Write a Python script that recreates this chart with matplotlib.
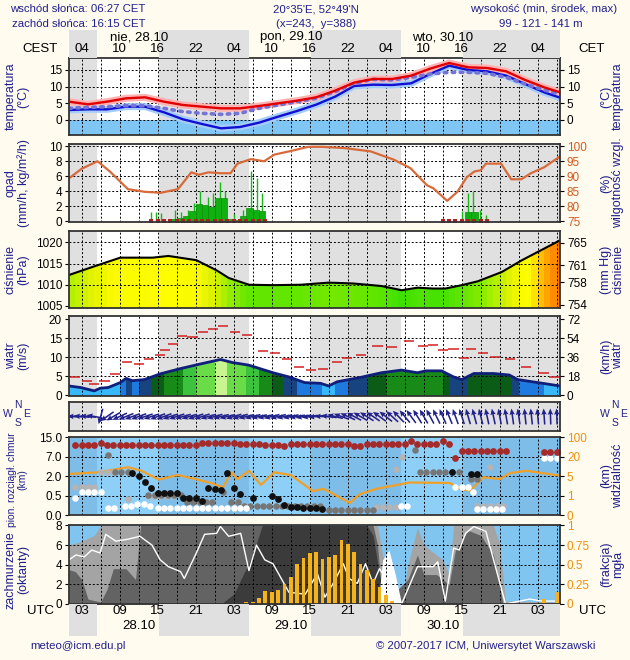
import numpy as np
import matplotlib
matplotlib.use("Agg")
import matplotlib.pyplot as plt
from matplotlib.colors import LinearSegmentedColormap, ListedColormap, BoundaryNorm, Normalize
from matplotlib.patches import Polygon
from matplotlib.transforms import blended_transform_factory

plt.rcParams['font.family'] = ['Liberation Sans', 'DejaVu Sans']

# ------------------------------------------------------------------ data
header_left = ["wschód słońca: 06:27 CET", "zachód słońca: 16:15 CET"]
header_mid = ["20°35'E, 52°49'N", "(x=243,  y=388)"]
header_right = ["wysokość (min, środek, max)", "99 - 121 - 141 m"]
day_top = ["nie, 28.10", "pon, 29.10", "wto, 30.10"]
day_bottom = ["28.10", "29.10", "30.10"]
day_t = [12, 36, 60]
hour_t = [3, 9, 15, 21, 27, 33, 39, 45, 51, 57, 63, 69, 75]
utc_labels = ["03", "09", "15", "21", "03", "09", "15", "21", "03", "09", "15", "21", "03"]
cet_labels = ["04", "10", "16", "22", "04", "10", "16", "22", "04", "10", "16", "22", "04"]
sunrise_utc = 5.45
sunset_utc = 15.25

# temperature (3-hourly, hours since 28.10 00 UTC)
temp_t = [1, 4, 7, 10, 13, 16, 19, 22, 25, 28, 31, 34, 37, 40, 43, 46, 49, 52, 55, 58, 61, 64, 67, 70, 73, 76, 78.5]
t_2m = [5.5, 4.7, 5.5, 6.5, 6.8, 5.5, 4.5, 4.0, 3.5, 3.5, 4.2, 5.0, 5.8, 6.8, 8.8, 11.2, 12.3, 12.3, 13.3, 15.4, 17.1, 15.8, 15.6, 14.6, 12.0, 9.8, 8.3]
t_ground = [3.0, 3.2, 3.2, 4.0, 4.0, 2.3, 0.2, -1.2, -2.5, -2.1, -0.8, 1.0, 2.7, 4.6, 7.0, 10.2, 10.6, 10.5, 11.0, 13.8, 16.3, 15.0, 14.6, 13.3, 10.8, 8.3, 6.7]
t_feel = [3.5, 3.8, 4.0, 4.3, 4.3, 3.5, 2.5, 2.0, 1.7, 2.0, 3.5, 4.5, 5.5, 6.5, 8.5, 11.0, 12.2, 12.0, 12.8, 13.8, 14.3, 14.3, 14.0, 12.8, 10.8, 9.0, 7.7]

# relative humidity
hum_t = [1, 3, 5.5, 7.5, 10.3, 13, 15.5, 18.2, 20.3, 21.5, 23, 25, 26.5, 27.6, 29.7, 31.8, 33.4, 36.6, 38.7, 41,
         44.4, 48.6, 52.3, 54.9, 57.5, 58.5, 60.7, 62.3, 63.8, 65, 66, 66.8, 69.2, 70.8, 72.4, 73.9, 76, 78.5]
hum = [89.3, 92.5, 95, 91.5, 85.7, 84.8, 84.5, 85.7, 91.3, 90.5, 91.3, 91, 91, 94.2, 95.7, 95, 97.2, 98.7, 99.8, 99.8,
       99.4, 98.3, 95.5, 92.7, 87, 86, 81.8, 84.8, 89.7, 91.6, 92, 94.2, 94.2, 89, 89, 91, 93, 96.6]

# precipitation (hourly bars), maxima (spikes), precipitation flags
prec_t = [17.5, 18.5, 19.5, 20.5, 21.5, 22.5, 23.5, 24.5, 25.5, 26.5, 27.5, 28.5, 29.5, 30.5, 31.5, 64.0, 65.0]
prec = [0.3, 0.5, 0.7, 1.4, 2.3, 2.2, 1.9, 3.1, 3.1, 0.3, 0.2, 0.7, 1.8, 1.5, 1.4, 1.3, 1.3]
spike_t = [14.0, 14.8, 15.6, 17.7, 18.7, 19.8, 20.8, 21.6, 22.9, 23.7, 24.8, 25.6, 27.1, 28.4, 29.8, 30.6, 31.4,
           63.0, 64.0, 64.8, 65.8, 66.8]
spike = [1.2, 1.3, 1.1, 1.5, 1.2, 1.5, 2.5, 4.0, 3.2, 3.8, 5.2, 4.0, 1.0, 1.5, 6.7, 5.8, 3.8,
         1.4, 3.8, 4.0, 1.5, 0.8]
flag_t = [14, 15, 16, 17, 18, 19, 20, 21, 22, 23, 24, 25, 26, 27, 28, 29, 30, 31, 32,
          60, 61, 62, 63, 64, 65, 66, 67]

# pressure (hPa)
pres_t = [1, 4.7, 9.1, 14.2, 16.7, 21.1, 24.3, 26.2, 29.4, 33.2, 37.6, 42, 45.8, 50.3, 53.5, 56, 58.5, 60.4, 63,
          65.5, 69.3, 72.5, 78.5]
pres = [1012.3, 1014.2, 1016.4, 1016.4, 1016.8, 1015.8, 1013.4, 1011.6, 1010.0, 1009.9, 1010.0, 1010.5, 1010.3,
        1009.7, 1008.7, 1009.3, 1009.1, 1009.1, 1009.9, 1010.8, 1013.0, 1015.8, 1020.5]

# wind speed (m/s) and gusts
wind_t = [1, 2.8, 5, 5.9, 7.2, 9.1, 10, 11, 12.9, 15.4, 18.6, 21.7, 24.9, 26.8, 29.4, 33.2, 35.7, 38.2, 40.7, 42,
          43.3, 47.1, 50.3, 53.5, 56, 57.3, 59.8, 61.7, 63, 64.9, 68, 70.5, 71.8, 75, 78.5]
wind = [2.4, 2.0, 1.1, 1.8, 2.0, 3.3, 4.4, 3.8, 4.1, 5.6, 7.0, 8.2, 9.4, 8.6, 7.9, 5.9, 4.8, 3.3, 3.1, 2.4,
        3.5, 4.7, 5.9, 6.6, 5.9, 6.4, 6.4, 4.8, 4.1, 5.7, 5.7, 5.3, 4.1, 3.3, 2.4]
gust_t = [1.9, 3.8, 5.0, 6.6, 8.3, 10.1, 12.0, 13.6, 15.3, 16.1, 17.4, 18.9, 20.5, 22.1, 23.7, 25.3, 27.2, 29.1,
          31.6, 33.5, 35.4, 37.3, 39.2, 41.1, 43.3, 44.9, 47.1, 49.7, 51.9, 54.7, 56.9, 58.5, 60.1, 61.7, 63.3,
          64.5, 66.4, 68.3, 70.6, 73.1, 75.9, 77.5]
gust = [4.8, 3.7, 3.0, 3.8, 5.5, 8.8, 8.2, 9.4, 10.6, 11.9, 13.4, 15.6, 15.4, 16.7, 17.4, 18.2, 16.7, 16.0,
        11.6, 11.2, 9.4, 7.5, 6.6, 7.0, 8.8, 9.7, 10.7, 13.0, 12.8, 14.4, 13.0, 13.2, 11.9, 12.1, 9.7,
        12.1, 11.2, 10.1, 9.4, 7.5, 5.9, 4.8]

# wind direction (deg, hourly t = 1..78)
wdir_t = list(range(1, 79))
wdir = [90, 92, 95, 95, 100, 15, 55, 60, 65, 68,
        70, 70, 72, 72, 70, 70, 72, 72, 74, 74, 72, 72, 74, 74, 76, 76, 74, 74, 76, 76,
        78, 78, 76, 76, 78, 78, 80, 80, 82, 84,
        92, 98, 104, 110, 114, 118, 120, 122, 124, 126,
        128, 132, 136, 140, 144, 148, 150, 152, 154, 156,
        158, 160, 162, 164, 165, 166, 168, 168, 170, 170,
        172, 172, 174, 174, 175, 176, 178, 178]

# cloud layers (km)
hc_t = list(range(2, 71)) + [76, 77, 78]
hc_h = [11.9, 11.9, 11.9, 11.9, 12.7,
        11.9, 11.9, 11.9, 11.9, 11.9, 11.8, 11.9, 11.9, 11.9, 11.9, 11.9, 12.0, 11.9, 11.9, 11.9,
        12.6, 12.6, 12.7, 12.6, 12.6, 12.6,
        12.3, 12.3, 12.3, 12.3,
        11.9, 11.9, 11.9,
        11.5,
        12.2, 12.2, 12.2, 12.2, 12.2, 12.2, 12.2, 12.2, 12.2, 12.2,
        11.6, 11.6,
        12.2, 12.2, 12.2, 12.3, 12.3, 12.2, 12.2,
        13.4,
        12.2, 12.2, 12.2, 12.2,
        13.6, 12.3, 6.6,
        9.5, 9.5, 9.5, 9.5, 9.5, 9.5, 9.5, 9.5,
        9.1, 9.1, 9.1]
black_t = [11, 12, 13, 14, 15, 16, 17, 18, 19, 20, 21, 22, 23, 24, 25, 26, 27, 28, 30, 33, 34, 35, 36, 37, 38,
           39, 40, 41, 61.4, 64.4, 65.4]
black_h = [2.75, 2.0, 1.55, 1.1, 0.7, 0.7, 0.7, 0.7, 0.43, 0.43, 0.43, 0.37, 1.1, 1.0, 0.95, 2.75, 1.1, 0.65,
           0.45, 0.48, 0.4, 0.25, 0.21, 0.21, 0.19, 0.19, 0.17, 0.15, 3.2, 2.55, 2.55]
gray_t = [7.1, 8.2, 9.2, 10.3, 13.4, 14.5, 15.5, 16.6, 17.6, 18.6, 19.6, 20.6, 21.6, 22.6, 23.6, 25.3, 26.6,
          27.6, 28.6, 29.6, 30.6, 31.6, 32.6, 33.6, 34.6, 35.6, 36.6, 37.6, 38.6, 39.6, 40.6, 42, 43, 44, 45,
          46, 47, 48, 49, 55.6, 56.4, 57.4, 58.4, 59.4, 60.4, 62.5, 64.4, 65.4]
gray_h = [7.8, 3.0, 3.0, 3.0, 0.56, 0.56, 0.56, 0.56, 0.56, 0.56, 0.33, 0.33, 0.33, 0.33, 0.33, 0.76, 0.33,
          0.33, 0.24, 0.24, 0.24, 0.24, 0.24, 0.24, 0.24, 0.24, 0.24, 0.24, 0.24, 0.24, 0.24, 0.13, 0.13, 0.13,
          0.13, 0.13, 0.13, 0.13, 0.13, 10.0, 3.2, 3.2, 3.2, 3.2, 3.2, 3.2, 1.8, 1.8]
lgray_t = [2, 3, 4, 5, 6, 7, 8, 10.3, 13.4, 14.4, 15.4, 16.4, 17.4, 49.5, 50.5, 51.5, 52.6, 52.6, 53.6, 67.4,
           65.4, 66.4, 67.5, 68.5, 69.5]
lgray_h = [1.2, 1.2, 1.2, 1.2, 3.2, 3.2, 3.2, 0.4, 0.5, 0.5, 0.5, 0.5, 0.5, 0.2, 0.2, 0.2, 0.2, 3.9, 7.0, 4.3,
           0.22, 0.22, 0.22, 0.22, 0.22]
white_t = [2, 3, 4, 5, 6, 7.1, 8.1, 9.8, 10.8, 11.8, 12.8, 13.8, 15, 16, 17, 18, 19, 20, 21, 22, 23, 24, 25,
           26, 27, 28, 29, 53.4, 54.4, 62, 63, 64, 64.7, 65.4, 66.4, 67.4, 68.4, 69.4, 76, 77, 78]
white_h = [0.45, 0.75, 0.75, 0.75, 0.75, 0.17, 0.17, 0.22, 0.22, 0.28, 0.28, 0.22, 0.19, 0.19, 0.19, 0.19,
           0.19, 0.19, 0.19, 0.19, 0.19, 0.19, 0.19, 0.19, 0.19, 0.19, 0.19, 0.24, 0.24, 1.15, 1.15, 1.15, 0.75,
           0.15, 0.15, 0.15, 0.15, 0.15, 6.6, 6.6, 6.6]
cb_ticks = [0.0, 0.5, 2.0, 7.0, 15.0]
cb_labels = ["0.0", "0.5", "2.0", "7.0", "15.0"]

# visibility (km)
vis_t = [1, 5.5, 10.3, 12.4, 15.2, 18.1, 21.3, 23.9, 25.3, 26.6, 27.6, 29.4, 31.3, 33.4, 36.0, 38.5, 39.5,
         41.1, 42.2, 45.3, 46.9, 49.5, 54.8, 61.1, 62.7, 64.3, 66.4, 69.0, 70.6, 73.2, 78.5]
vis = [6.7, 8.0, 11.9, 9.2, 4.3, 5.9, 4.3, 3.4, 2.7, 8.0, 4.4, 9.2, 3.2, 8.0, 5.9, 2.9, 1.9, 2.4, 1.7, 0.62,
       1.3, 2.4, 3.7, 3.6, 2.4, 2.0, 4.8, 4.4, 7.4, 9.2, 5.4]
vis_ticks = [0, 1, 5, 20, 100]

# cloud cover (oktas)
cc_t = [1, 3, 5, 6, 49.7, 50.5, 53.5, 54.5, 56, 57, 58, 59, 60, 61, 61.7, 68, 69, 69.9, 78.5]
cc_total = [6.0, 6.4, 7.0, 8.0, 8.0, 5.0, 0.0, 4.0, 7.8, 6.0, 5.5, 5.0, 4.5, 3.0, 8.0, 8.0, 6.0, 0.3, 0.2]
cm_t = [1, 2, 3, 4, 6, 7, 8, 10, 11.5, 12.3, 49, 49.7, 50.5, 54.5, 56, 57, 59, 61, 62, 64, 66, 68, 69.5, 78.5]
cc_mid = [3.5, 3.3, 2.5, 0.5, 0.2, 1.5, 3.6, 3.6, 2.5, 8.0, 8.0, 6.0, 0.0, 2.5, 5.0, 3.0, 3.0, 2.0, 5.5, 7.5,
          7.0, 5.0, 0.0, 0.0]
cl_t = [1, 25, 27, 28.5, 30, 31.5, 48, 49, 50, 51, 52, 78.5]
cc_low = [0, 0, 1, 3, 5, 8, 8, 7, 3, 0.5, 0, 0]
cw_t = [49.8, 50.5, 51.5, 52.5, 53.5]
cc_white = [0.0, 4.5, 5.5, 3.0, 0.0]
wl_t = [1.0, 2.1, 3.4, 4.6, 5.9, 6.8, 8.4, 10.3, 12.2, 14.1, 15.4, 16.7, 18.6, 19.2, 21.1, 22.4, 24.3, 24.9,
        26.2, 28.1, 29.4, 30.6, 31.9, 33.2, 34.5, 35.7, 38.3, 40.2, 41.4, 42.7, 44.3, 45.2, 46.5, 47.8, 49.0,
        50.0, 51.6, 53.5, 56.0, 58.5, 59.2, 60.4, 61.7, 62.6, 63.6, 64.9, 66.8, 69.9, 73.7, 75.6, 78.5]
wl = [4.5, 5.0, 4.8, 5.5, 5.2, 7.1, 6.4, 6.6, 6.9, 6.0, 4.5, 3.8, 3.3, 2.6, 5.2, 7.1, 7.2, 7.9, 6.9, 7.2,
      3.4, 6.0, 4.5, 4.1, 2.6, 1.2, 1.0, 3.1, 0.7, 2.1, 4.1, 2.6, 2.1, 4.1, 2.1, 3.6, 2.0, 0.0, 3.8, 3.8,
      4.3, 0.3, 5.7, 5.5, 7.2, 7.9, 7.4, 0.0, 0.5, 0.3, 0.3]
fog_t = [29, 30, 31, 32, 33, 34, 35, 36, 37, 38, 39, 40, 41, 42, 43, 44, 45, 46, 47, 48, 49, 50, 51, 52, 76, 78]
fog = [0.03, 0.03, 0.08, 0.16, 0.15, 0.18, 0.25, 0.35, 0.51, 0.58, 0.65, 0.66, 0.57, 0.60, 0.63, 0.82, 0.77,
       0.66, 0.51, 0.43, 0.32, 0.22, 0.12, 0.04, 0.06, 0.15]

# ------------------------------------------------------------------ style
BG = '#fffbef'
NIGHT = '#e0e0e0'
NAVY = '#20208c'
FS = 8.5
W, H = 630, 660
PXL, PXR = 69, 560
T0, T1 = 1.0, 78.5

fig = plt.figure(figsize=(W / 100, H / 100), dpi=100, facecolor=BG)


def ty(py):
    return 1 - py / H


def mkax(top, bot, face='white'):
    ax = fig.add_axes([PXL / W, 1 - bot / H, (PXR - PXL) / W, (bot - top) / H])
    ax.set_facecolor(face)
    ax.set_xlim(T0, T1)
    ax.set_xticks([])
    for s in ax.spines.values():
        s.set_color('#333333')
        s.set_linewidth(1.3)
        s.set_zorder(10)
    ax.tick_params(axis='y', direction='out', length=3, width=0.8, labelsize=FS, pad=2)
    return ax


night_spans = [(T0, sunrise_utc), (sunset_utc, sunrise_utc + 24), (sunset_utc + 24, sunrise_utc + 48),
               (sunset_utc + 48, T1)]


def shade(ax, color=NIGHT):
    for a, b in night_spans:
        ax.axvspan(a, b, color=color, lw=0, zorder=0)


def grid(ax, yvals):
    for x in np.arange(3, T1, 3):
        ax.axvline(x, color='black', lw=0.7, ls=(0, (2, 2)), zorder=2)
    for y in yvals:
        ax.axhline(y, color='black', lw=0.7, ls=(0, (2, 2)), zorder=2)


def twin(ax, ylim, ticks, labels, color='black'):
    a2 = ax.twinx()
    a2.set_ylim(*ylim)
    a2.set_yticks(ticks)
    a2.set_yticklabels(labels)
    a2.tick_params(axis='y', direction='out', length=3, width=0.8, labelsize=FS, pad=2, labelcolor=color)
    for s in a2.spines.values():
        s.set_visible(False)
    return a2


def side_labels(top, bot, left, right, yc=None, lfs=FS + 0.5):
    y = ty((top + bot) / 2) if yc is None else ty(yc)
    tl = fig.text(17 / W, y, left, rotation=90, ha='center', va='center', color=NAVY, fontsize=lfs,
                  linespacing=1.05, multialignment='center')
    tr = fig.text(612 / W, ty((top + bot) / 2), right, rotation=90, ha='center', va='center', color=NAVY,
                  fontsize=FS + 0.5, linespacing=1.05, multialignment='center')
    return tl, tr


def gradient_fill(ax, xs, ys, base, top, colors_at):
    edges = np.arange(T0, T1 + 1.0, 1.0)
    centers = edges[:-1] + 0.5
    rgba = colors_at(np.interp(centers, xs, ys))[None, :, :]
    im = ax.imshow(rgba, extent=(edges[0], edges[-1], base, top), aspect='auto', interpolation='nearest',
                   zorder=1, origin='lower')
    verts = [(xs[0], base)] + list(zip(xs, ys)) + [(xs[-1], base)]
    poly = Polygon(verts, closed=True, transform=ax.transData, fc='none', ec='none')
    ax.add_patch(poly)
    im.set_clip_path(poly)
    ax.set_xlim(T0, T1)
    ax.set_ylim(base, top)


# ------------------------------------------------------------------ temperature
ax = mkax(58, 135)
ylo, yhi = -4.5, 18.6
ax.set_ylim(ylo, yhi)
shade(ax)
ax.axhspan(ylo, 0, color='#7fc6f5', lw=0, zorder=0.5)
grid(ax, [0, 5, 10, 15])
ax.plot(temp_t, t_ground, color='#a6ccfa', lw=5, zorder=3, solid_capstyle='round')
ax.plot(temp_t, t_2m, color='#ffb2b2', lw=5, zorder=3, solid_capstyle='round')
ax.plot(temp_t, t_ground, color='#1010d0', lw=1.7, zorder=4)
ax.plot(temp_t, t_feel, color='#7474d6', lw=2.6, ls=(0, (0.7, 1.5)), dash_capstyle='round', zorder=5)
ax.plot(temp_t, t_2m, color='#e00000', lw=1.7, zorder=6)
ax.set_yticks([0, 5, 10, 15])
twin(ax, (ylo, yhi), [0, 5, 10, 15], ["0", "5", "10", "15"])
side_labels(58, 135, "temperatura\n(°C)", "(°C)\ntemperatura")

# ------------------------------------------------------------------ precipitation / humidity
ax = mkax(144, 222)
ylo, yhi = -0.1, 10.3
ax.set_ylim(ylo, yhi)
shade(ax)
grid(ax, [2, 4, 6, 8, 10])
ax.vlines(spike_t, 0, spike, color='#14b814', lw=1.0, zorder=3)
ax.bar(prec_t, prec, width=1.0, color='#10b010', edgecolor='#0a900a', lw=0.5, zorder=3)
ax.plot(flag_t, np.zeros(len(flag_t)), 's', color='#b02020', ms=2.6, mew=0, zorder=4)
ax.plot(hum_t, (np.array(hum) - 75) / 2.5, color='#d86a3a', lw=1.6, zorder=5)
ax.set_yticks([0, 2, 4, 6, 8, 10])
twin(ax, (75 + 2.5 * ylo, 75 + 2.5 * yhi), [75, 80, 85, 90, 95, 100],
     ["75", "80", "85", "90", "95", "100"], color='#d35a20')
side_labels(144, 222, "opad\n(mm/h, kg/m²/h)", "(%)\nwilgotność wzgl.")

# ------------------------------------------------------------------ pressure
ax = mkax(231, 308)
ylo, yhi = 1004.5, 1022.7
shade(ax)
pcmap = LinearSegmentedColormap.from_list('p', [
    (0.0, '#38e000'), (0.15, '#6ee800'), (0.3, '#a8f000'), (0.45, '#dcf200'),
    (0.6, '#fafa00'), (0.7, '#ffff00'), (0.78, '#ffc800'), (0.88, '#ffa000'), (1.0, '#ff7400')])
pnorm = Normalize(1008.5, 1020.5)
gradient_fill(ax, pres_t, pres, ylo, yhi, lambda v: pcmap(pnorm(v)))
grid(ax, [1010, 1015, 1020])
ax.plot(pres_t, pres, color='black', lw=1.5, zorder=5)
ax.set_yticks([1005, 1010, 1015, 1020])
mm = 1.333224
twin(ax, (ylo / mm, yhi / mm), [754, 758, 761, 765], ["754", "758", "761", "765"])
side_labels(231, 308, "ciśnienie\n(hPa)", "(mm Hg)\nciśnienie")

# ------------------------------------------------------------------ wind
ax = mkax(316, 396)
ylo, yhi = -0.25, 20.9
shade(ax)
wcmap = ListedColormap(['#38b8f8', '#1f7ae0', '#17437e', '#0b5c16', '#188a18', '#3cc23c', '#6adc48', '#c8f592'])
wnorm = BoundaryNorm([0, 3, 4, 5, 6, 7, 8, 9, 30], wcmap.N)
gradient_fill(ax, wind_t, wind, ylo, yhi, lambda v: wcmap(wnorm(v)))
grid(ax, [5, 10, 15])
ax.plot(wind_t, wind, color='#10207a', lw=2.0, zorder=5)
ax.hlines(gust, np.array(gust_t) - 0.8, np.array(gust_t) + 0.8, color='#d42020', lw=1.1, zorder=5)
ax.set_yticks([0, 5, 10, 15, 20])
twin(ax, (ylo * 3.6, yhi * 3.6), [0, 18, 36, 54, 72], ["0", "18", "36", "54", "72"])
side_labels(316, 396, "wiatr\n(m/s)", "(km/h)\nwiatr")

# ------------------------------------------------------------------ wind direction
ax = mkax(402, 431)
ax.set_ylim(-1, 1)
shade(ax)
grid(ax, [])
d = np.deg2rad(wdir)
ax.quiver(wdir_t, np.zeros(len(wdir_t)), -np.sin(d), -np.cos(d), pivot='middle', color='#22228c',
          scale=1 / 0.16, scale_units='inches', width=0.0032, headwidth=3.5, headlength=4,
          headaxislength=3.5, zorder=4)
ax.set_yticks([])
for (x, y, s) in [(8, 414, 'W'), (18, 405, 'N'), (27, 414, 'E'), (18, 423, 'S'),
                  (605, 414, 'W'), (615, 405, 'N'), (624, 414, 'E'), (615, 423, 'S')]:
    fig.text(x / W, ty(y), s, ha='center', va='center', color=NAVY, fontsize=7.5)

# ------------------------------------------------------------------ cloud base / visibility
ax = mkax(437, 515, face='#8dcff7')
ax.set_ylim(0, 4.02)
shade(ax, '#7fbde9')
grid(ax, [1, 2, 3])
cpos = lambda h: np.interp(h, cb_ticks, [0, 1, 2, 3, 4])
vpos = lambda v: np.interp(v, vis_ticks, [0, 1, 2, 3, 4])
ax.plot(vis_t, vpos(vis), color='#f0a028', lw=1.6, zorder=3)
ax.scatter(lgray_t, cpos(lgray_h), s=22, color='#b4b4b4', lw=0, zorder=4)
ax.scatter(gray_t, cpos(gray_h), s=22, color='#767676', lw=0, zorder=4)
ax.scatter(white_t, cpos(white_h), s=22, color='white', lw=0, zorder=4)
ax.scatter(black_t, cpos(black_h), s=24, color='#101010', lw=0, zorder=5)
ax.scatter(hc_t, cpos(hc_h), s=24, color='#a52a2a', lw=0, zorder=5)
ax.set_yticks([0, 1, 2, 3, 4])
ax.set_yticklabels(cb_labels)
twin(ax, (0, 4.02), [0, 1, 2, 3, 4], [str(v) for v in vis_ticks], color='#f09010')
side_labels(437, 515, "pion. rozciągł. chmur\n(km)", "(km)\nwidzialność", yc=480, lfs=7.4)

# ------------------------------------------------------------------ cloud cover / fog
ax = mkax(525, 604, face='#80c4f0')
ax.set_ylim(0, 8.05)
ax.fill_between(cc_t, 0, cc_total, color='#a4a4a4', lw=0, zorder=1)
ax.fill_between(cm_t, 0, cc_mid, color='#636363', lw=0, zorder=1.1)
ax.fill_between(cl_t, 0, cc_low, color='#3b3b3b', lw=0, zorder=1.2)
ax.fill_between(cw_t, 0, cc_white, color='white', lw=0, zorder=1.3)
grid(ax, [2, 4, 6])
ax.plot(wl_t, wl, color='white', lw=1.0, zorder=4)
ax.bar(fog_t, np.array(fog) * 8, width=0.6, color='#f5b21a', lw=0, zorder=5)
ax.set_yticks([0, 2, 4, 6, 8])
twin(ax, (0, 8.05 / 8), [0, 0.25, 0.5, 0.75, 1], ["0", "0.25", "0.5", "0.75", "1"], color='#f09010')
side_labels(525, 604, "zachmurzenie\n(oktanty)", "(frakcja)\nmgła", yc=570)

# ------------------------------------------------------------------ time bands
band_t = fig.add_axes([PXL / W, ty(58), (PXR - PXL) / W, 28 / H])
band_t.set_xlim(T0, T1)
shade(band_t)
band_t.set_axis_off()
trT = blended_transform_factory(band_t.transData, fig.transFigure)
for t, lab in zip(hour_t, cet_labels):
    fig.text(t, ty(49), lab, transform=trT, ha='center', va='center', fontsize=FS + 1)
for t, lab in zip(day_t, day_top):
    fig.text(t, ty(37), lab, transform=trT, ha='center', va='center', fontsize=FS + 1)

band_b = fig.add_axes([PXL / W, ty(636), (PXR - PXL) / W, 32 / H])
band_b.set_xlim(T0, T1)
shade(band_b)
band_b.set_axis_off()
trB = blended_transform_factory(band_b.transData, fig.transFigure)
for t, lab in zip(hour_t, utc_labels):
    fig.text(t, ty(611), lab, transform=trB, ha='center', va='center', fontsize=FS + 1)
for t, lab in zip(day_t, day_bottom):
    fig.text(t, ty(626), lab, transform=trB, ha='center', va='center', fontsize=FS + 1)

fig.text(40 / W, ty(49), "CEST", ha='center', va='center', fontsize=FS + 1)
fig.text(592 / W, ty(49), "CET", ha='center', va='center', fontsize=FS + 1)
fig.text(40 / W, ty(611), "UTC", ha='center', va='center', fontsize=FS + 1)
fig.text(592 / W, ty(611), "UTC", ha='center', va='center', fontsize=FS + 1)

# ------------------------------------------------------------------ header / footer
HF = 8.2
fig.text(10 / W, ty(9), header_left[0], ha='left', va='center', color=NAVY, fontsize=HF)
fig.text(12 / W, ty(24), header_left[1], ha='left', va='center', color=NAVY, fontsize=HF)
fig.text(316 / W, ty(9), header_mid[0], ha='center', va='center', color=NAVY, fontsize=HF)
fig.text(316 / W, ty(24), header_mid[1], ha='center', va='center', color=NAVY, fontsize=HF)
fig.text(617 / W, ty(9), header_right[0], ha='right', va='center', color=NAVY, fontsize=HF)
fig.text(541 / W, ty(24), header_right[1], ha='center', va='center', color=NAVY, fontsize=HF)
fig.text(30 / W, ty(646), "meteo@icm.edu.pl", ha='left', va='center', color=NAVY, fontsize=HF)
fig.text(595 / W, ty(646), "© 2007-2017 ICM, Uniwersytet Warszawski", ha='right', va='center', color=NAVY,
         fontsize=HF)

fig.savefig("out.png", dpi=100, facecolor=BG)
